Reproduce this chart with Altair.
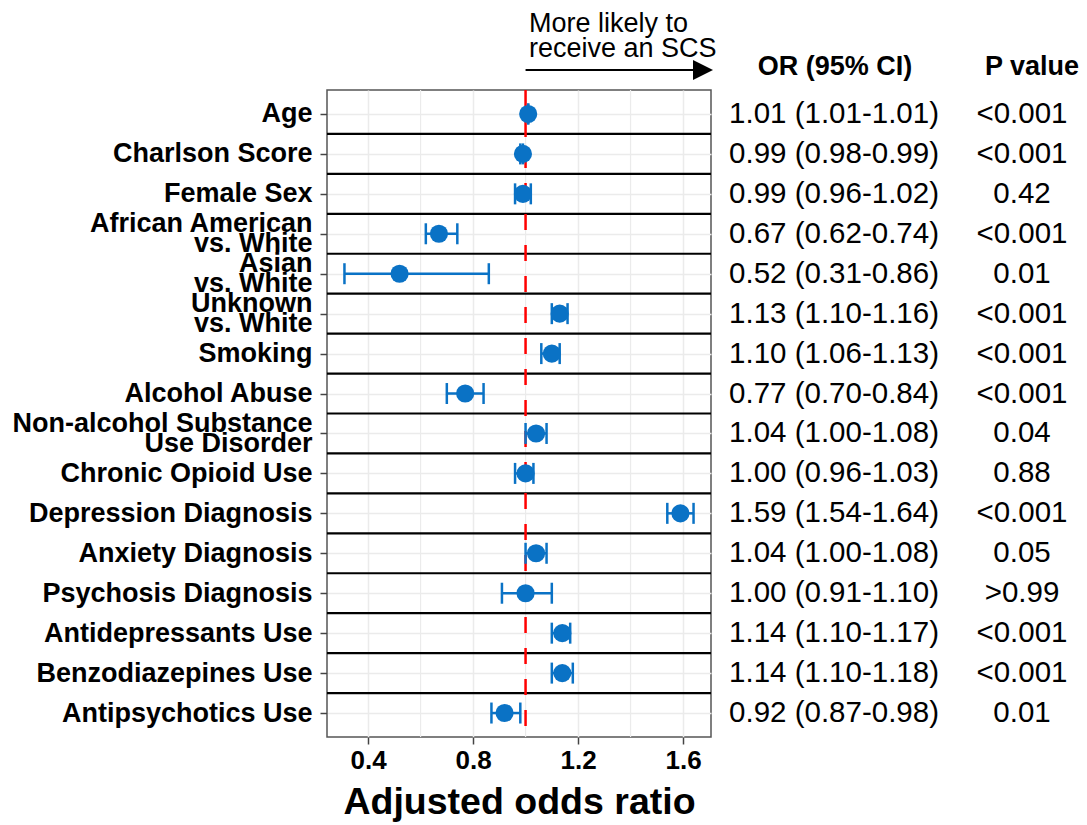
import json
import altair as alt
import pandas as pd

labels = ["Age", "Charlson Score", "Female Sex", "African American|vs. White",
          "Asian|vs. White", "Unknown|vs. White", "Smoking", "Alcohol Abuse",
          "Non-alcohol Substance|Use Disorder", "Chronic Opioid Use",
          "Depression Diagnosis", "Anxiety Diagnosis", "Psychosis Diagnosis",
          "Antidepressants Use", "Benzodiazepines Use", "Antipsychotics Use"]
or_est = [1.01, 0.99, 0.99, 0.67, 0.52, 1.13, 1.10, 0.77, 1.04, 1.00, 1.59, 1.04, 1.00, 1.14, 1.14, 0.92]
ci_low = [1.01, 0.98, 0.96, 0.62, 0.31, 1.10, 1.06, 0.70, 1.00, 0.96, 1.54, 1.00, 0.91, 1.10, 1.10, 0.87]
ci_high = [1.01, 0.99, 1.02, 0.74, 0.86, 1.16, 1.13, 0.84, 1.08, 1.03, 1.64, 1.08, 1.10, 1.17, 1.18, 0.98]
or_text = ["1.01 (1.01-1.01)", "0.99 (0.98-0.99)", "0.99 (0.96-1.02)", "0.67 (0.62-0.74)",
           "0.52 (0.31-0.86)", "1.13 (1.10-1.16)", "1.10 (1.06-1.13)", "0.77 (0.70-0.84)",
           "1.04 (1.00-1.08)", "1.00 (0.96-1.03)", "1.59 (1.54-1.64)", "1.04 (1.00-1.08)",
           "1.00 (0.91-1.10)", "1.14 (1.10-1.17)", "1.14 (1.10-1.18)", "0.92 (0.87-0.98)"]
p_text = ["<0.001", "<0.001", "0.42", "<0.001", "0.01", "<0.001", "<0.001", "<0.001",
          "0.04", "0.88", "<0.001", "0.05", ">0.99", "<0.001", "<0.001", "0.01"]
x_ticks = [0.4, 0.8, 1.2, 1.6]
minor_ticks = [0.6, 1.0, 1.4]
headers = ["OR (95% CI)", "P value"]
annotation = ["More likely to", "receive an SCS"]
x_title = "Adjusted odds ratio"
ref_value = 1.0

FONT = "Liberation Sans"
BLUE = "#0a72c5"
W, H = 384, 647

rows = list(range(1, len(labels) + 1))
df = pd.DataFrame({"row": rows, "label": labels, "est": or_est, "lo": ci_low,
                   "hi": ci_high, "or_text": or_text, "p_text": p_text})

lo_all, hi_all = min(ci_low), max(ci_high)
pad = 0.05 * (hi_all - lo_all)
xscale = alt.Scale(domain=[lo_all - pad, hi_all + pad], nice=False, zero=False)
yscale = alt.Scale(domain=[0.4, len(labels) + 0.6], reverse=True, nice=False, zero=False)

lab_arr = json.dumps(labels)
label_expr = "split(" + lab_arr + "[datum.value - 1], '|')"
multi_test = "indexof(" + lab_arr + "[datum.value - 1], '|') >= 0"

xax = alt.Axis(values=x_ticks, format=".1f", title=x_title, grid=True, gridColor="#EBEBEB",
               gridWidth=1.5, domain=False, tickColor="#444", tickWidth=1.5, tickSize=7,
               labelPadding=3, labelFont=FONT, labelFontSize=26, labelFontWeight="bold",
               labelColor="black", titleFont=FONT, titleFontSize=37.5, titleFontWeight="bold",
               titleColor="black", titlePadding=10, labelOverlap=False)
yax = alt.Axis(values=rows, labelExpr=label_expr, title=None, grid=True, gridColor="#EBEBEB",
               gridWidth=1.5, domain=False, tickColor="#444", tickWidth=1.5, tickSize=7,
               labelPadding=8, labelFont=FONT, labelFontSize=27, labelFontWeight="bold",
               labelColor="black", labelLimit=500, labelLineHeight=20, labelBaseline="middle",
               labelOverlap=False,
               labelOffset={"condition": {"test": multi_test, "value": -10}, "value": 0})

base = alt.Chart(df)

minor = alt.Chart(pd.DataFrame({"v": minor_ticks})).mark_rule(
    color="#EBEBEB", strokeWidth=1.2).encode(x=alt.X("v:Q", scale=xscale, axis=xax))

axes_holder = base.mark_point(opacity=0).encode(
    x=alt.X("est:Q", scale=xscale, axis=xax), y=alt.Y("row:Q", scale=yscale, axis=yax))

seps = base.transform_filter(alt.datum.row < len(labels)).transform_calculate(
    sep="datum.row + 0.5").mark_rule(color="black", strokeWidth=2.2).encode(
    y=alt.Y("sep:Q", scale=yscale))

refline = alt.Chart(pd.DataFrame({"r": [ref_value]})).mark_rule(
    color="#FF0000", strokeDash=[16, 15], strokeWidth=2.5).encode(
    x=alt.X("r:Q", scale=xscale))

bars = base.mark_rule(color=BLUE, strokeWidth=2.5).encode(
    x=alt.X("lo:Q", scale=xscale), x2="hi:Q", y=alt.Y("row:Q", scale=yscale))
cap_lo = base.mark_tick(color=BLUE, orient="vertical", size=21, thickness=2.5, opacity=1).encode(
    x=alt.X("lo:Q", scale=xscale), y=alt.Y("row:Q", scale=yscale))
cap_hi = base.mark_tick(color=BLUE, orient="vertical", size=21, thickness=2.5, opacity=1).encode(
    x=alt.X("hi:Q", scale=xscale), y=alt.Y("row:Q", scale=yscale))
points = base.mark_circle(color=BLUE, size=330, opacity=1).encode(
    x=alt.X("est:Q", scale=xscale), y=alt.Y("row:Q", scale=yscale))

or_col = base.mark_text(font=FONT, fontSize=29.5, align="center", baseline="middle",
                        color="black").encode(
    x=alt.value(507), y=alt.Y("row:Q", scale=yscale), text="or_text:N")
p_col = base.mark_text(font=FONT, fontSize=29.5, align="center", baseline="middle",
                       color="black").encode(
    x=alt.value(695), y=alt.Y("row:Q", scale=yscale), text="p_text:N")

hdr_df = pd.DataFrame({"h": headers, "hx": [508, 705]})
hdr = alt.Chart(hdr_df).mark_text(font=FONT, fontSize=27, fontWeight="bold", align="center",
                                  baseline="alphabetic", color="black").encode(
    x=alt.X("hx:Q", scale=None), y=alt.value(-15), text="h:N")

ann = alt.Chart(pd.DataFrame({"t": ["\n".join(annotation)]})).mark_text(
    font=FONT, fontSize=27, align="left", baseline="top", lineBreak="\n", lineHeight=25,
    color="black").encode(x=alt.value(202), y=alt.value(-79), text="t:N")

arrow_line = alt.Chart(pd.DataFrame({"r": [ref_value]})).mark_rule(
    color="black", strokeWidth=2.2).encode(
    x=alt.X("r:Q", scale=xscale), x2=alt.value(372), y=alt.value(-20))
arrow_head = alt.Chart(pd.DataFrame({"r": [ref_value]})).mark_point(
    shape="M-1,-1L1,0L-1,1Z", filled=True, color="black", opacity=1, size=400).encode(
    x=alt.value(376), y=alt.value(-20))

chart = alt.layer(
    axes_holder, minor, seps, refline, bars, cap_lo, cap_hi, points,
    or_col, p_col, hdr, ann, arrow_line, arrow_head
).properties(
    width=W, height=H,
    autosize=alt.AutoSizeParams(type="none"),
    padding={"left": 319, "top": 82, "right": 368, "bottom": 88},
    background="white",
).configure_view(stroke="#555", strokeWidth=1.5)

chart.save("out.html", embed_options={"renderer": "svg", "actions": False})
